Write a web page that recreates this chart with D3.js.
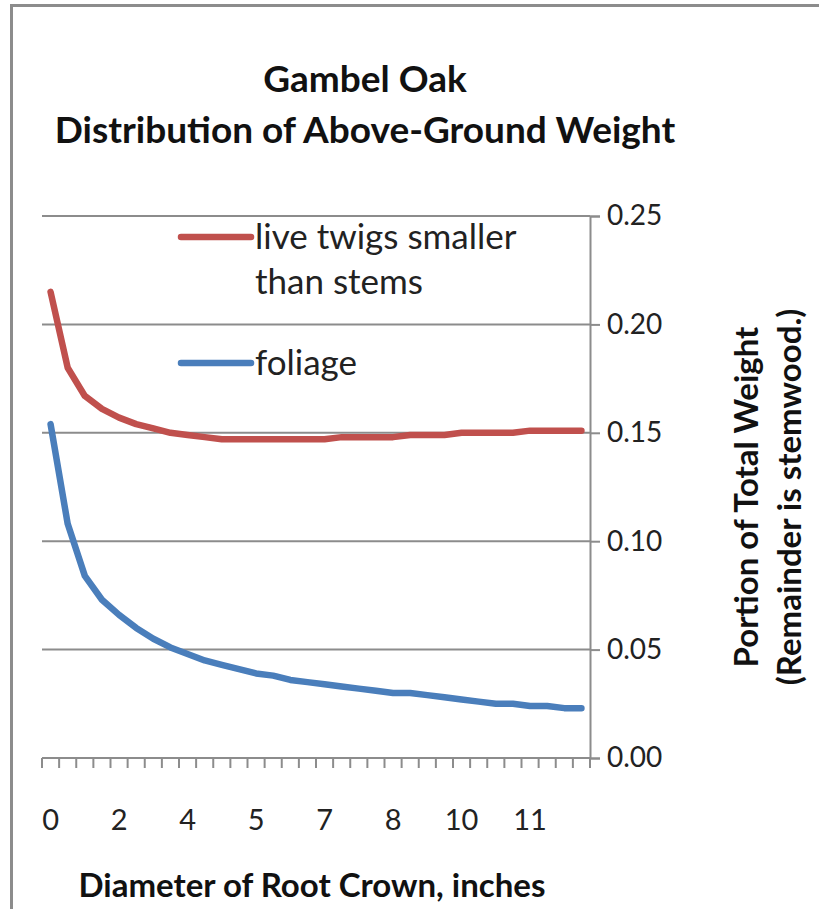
<!DOCTYPE html>
<html>
<head>
<meta charset="utf-8">
<script src="https://cdn.jsdelivr.net/npm/d3@7"></script>
<style>
  body { margin: 0; background: #fff; }
  svg { display: block; font-family: Lato, "Open Sans", sans-serif; }
</style>
</head>
<body>
<svg id="chart"></svg>
<script>
// diameter of root crown (inches), one per category
var diameters = [0.4, 0.8, 1.2, 1.6, 2.0, 2.4, 2.7, 3.1, 3.5, 3.9, 4.3, 4.7, 5.1, 5.5, 5.9, 6.3,
                 6.6, 7.0, 7.4, 7.8, 8.2, 8.6, 9.0, 9.4, 9.8, 10.2, 10.5, 10.9, 11.3, 11.7, 12.1, 12.5];

var twigs = [0.215, 0.180, 0.167, 0.161, 0.157, 0.154, 0.152, 0.150, 0.149, 0.148, 0.147, 0.147,
             0.147, 0.147, 0.147, 0.147, 0.147, 0.148, 0.148, 0.148, 0.148, 0.149, 0.149, 0.149,
             0.150, 0.150, 0.150, 0.150, 0.151, 0.151, 0.151, 0.151];

var foliage = [0.154, 0.108, 0.084, 0.073, 0.066, 0.060, 0.055, 0.051, 0.048, 0.045, 0.043, 0.041,
               0.039, 0.038, 0.036, 0.035, 0.034, 0.033, 0.032, 0.031, 0.030, 0.030, 0.029, 0.028,
               0.027, 0.026, 0.025, 0.025, 0.024, 0.024, 0.023, 0.023];

var yTicks = [0, 0.05, 0.10, 0.15, 0.20, 0.25];

var series = [
  {name: ["live twigs smaller", "than stems"], values: twigs, color: "#c0504d"},
  {name: ["foliage"], values: foliage, color: "#4a7ebb"}
];

var width = 819, height = 909;

var svg = d3.select("svg#chart")
            .attr("width", width)
            .attr("height", height);

// outer frame
svg.append("path")
   .attr("d", "M11.5," + height + " V5.5 H" + width)
   .attr("fill", "none")
   .attr("stroke", "#8c8c8c")
   .attr("stroke-width", 3);

var plot = {left: 42, right: 590, top: 216, bottom: 758};

var xScale = d3.scaleBand()
               .domain(diameters)
               .range([plot.left, plot.right]);

var yScale = d3.scaleLinear()
               .domain([0, 0.25])
               .range([plot.bottom, plot.top]);

//gridlines
svg.append("g")
   .selectAll("line")
   .data(yTicks.slice(1))
   .enter()
   .append("line")
   .attr("x1", plot.left)
   .attr("x2", plot.right)
   .attr("y1", function(d){return yScale(d)})
   .attr("y2", function(d){return yScale(d)})
   .attr("stroke", "#8c8c8c")
   .attr("stroke-width", 2);

// x axis, ticks between categories
var xAxis = svg.append("g")
               .classed("xAxis", true);

xAxis.append("line")
     .attr("x1", plot.left).attr("x2", plot.right)
     .attr("y1", plot.bottom).attr("y2", plot.bottom)
     .attr("stroke", "#8c8c8c").attr("stroke-width", 2);

xAxis.selectAll("line.tick")
     .data(diameters.concat(["end"]))
     .enter()
     .append("line")
     .classed("tick", true)
     .attr("x1", function(d,i){return i < diameters.length ? xScale(d) : plot.right})
     .attr("x2", function(d,i){return i < diameters.length ? xScale(d) : plot.right})
     .attr("y1", plot.bottom)
     .attr("y2", plot.bottom + 10)
     .attr("stroke", "#8c8c8c")
     .attr("stroke-width", 2);

xAxis.selectAll("text")
     .data(diameters.filter(function(d,i){return i % 4 == 0}))
     .enter()
     .append("text")
     .attr("x", function(d){return xScale(d) + xScale.bandwidth()/2})
     .attr("y", 830)
     .attr("text-anchor", "middle")
     .attr("font-size", 29)
     .attr("fill", "#222")
     .text(function(d){return Math.round(d)});

// y axis on the right
var yAxis = d3.axisRight(yScale)
              .tickValues(yTicks)
              .tickSize(10)
              .tickPadding(7)
              .tickFormat(d3.format(".2f"));

var yG = svg.append("g")
            .classed("yAxis", true)
            .attr("transform", "translate(" + plot.right + ",0)")
            .call(yAxis);

yG.select(".domain").attr("stroke", "#8c8c8c").attr("stroke-width", 2);
yG.selectAll(".tick line").attr("stroke", "#8c8c8c").attr("stroke-width", 2);
yG.selectAll(".tick text")
  .attr("font-size", 28)
  .attr("font-family", "Lato, sans-serif")
  .attr("fill", "#222");

// lines
var line = d3.line()
             .x(function(d,i){return xScale(diameters[i]) + xScale.bandwidth()/2})
             .y(function(d){return yScale(d)});

svg.append("g")
   .selectAll("path")
   .data(series)
   .enter()
   .append("path")
   .attr("d", function(d){return line(d.values)})
   .attr("fill", "none")
   .attr("stroke", function(d){return d.color})
   .attr("stroke-width", 6.5)
   .attr("stroke-linecap", "round")
   .attr("stroke-linejoin", "round");

// legend
var legend = svg.append("g")
                .classed("legend", true)
                .attr("transform", "translate(181,237)");

var legendLines = legend.selectAll("g")
                        .data(series)
                        .enter()
                        .append("g")
                        .attr("transform", function(d,i){return "translate(0," + (i*126) + ")"});

legendLines.append("line")
           .attr("x1", 0).attr("x2", 70)
           .attr("stroke", function(d){return d.color})
           .attr("stroke-width", 6.5)
           .attr("stroke-linecap", "round");

legendLines.append("text")
           .attr("x", 74)
           .attr("y", 12)
           .attr("font-size", 35)
           .attr("fill", "#222")
           .selectAll("tspan")
           .data(function(d){return d.name})
           .enter()
           .append("tspan")
           .attr("x", 74)
           .attr("dy", function(d,i){return i == 0 ? 0 : 45})
           .text(function(d){return d});

// titles
var title = svg.append("text")
               .attr("text-anchor", "middle")
               .attr("font-size", 37)
               .attr("font-weight", "bold")
               .attr("fill", "#111");
title.append("tspan").attr("x", 365).attr("y", 92).text("Gambel Oak");
title.append("tspan").attr("x", 365).attr("y", 143).text("Distribution of Above-Ground Weight");

svg.append("text")
   .attr("x", 312)
   .attr("y", 897)
   .attr("text-anchor", "middle")
   .attr("font-size", 33)
   .attr("font-weight", "bold")
   .attr("fill", "#111")
   .text("Diameter of Root Crown, inches");

var yTitle = svg.append("text")
                .attr("transform", "translate(758,497) rotate(-90)")
                .attr("text-anchor", "middle")
                .attr("font-size", 33)
                .attr("font-weight", "bold")
                .attr("fill", "#111");
yTitle.append("tspan").attr("x", 0).attr("y", 0).text("Portion of Total Weight");
yTitle.append("tspan").attr("x", 0).attr("y", 43).text("(Remainder is stemwood.)");
</script>
</body>
</html>
